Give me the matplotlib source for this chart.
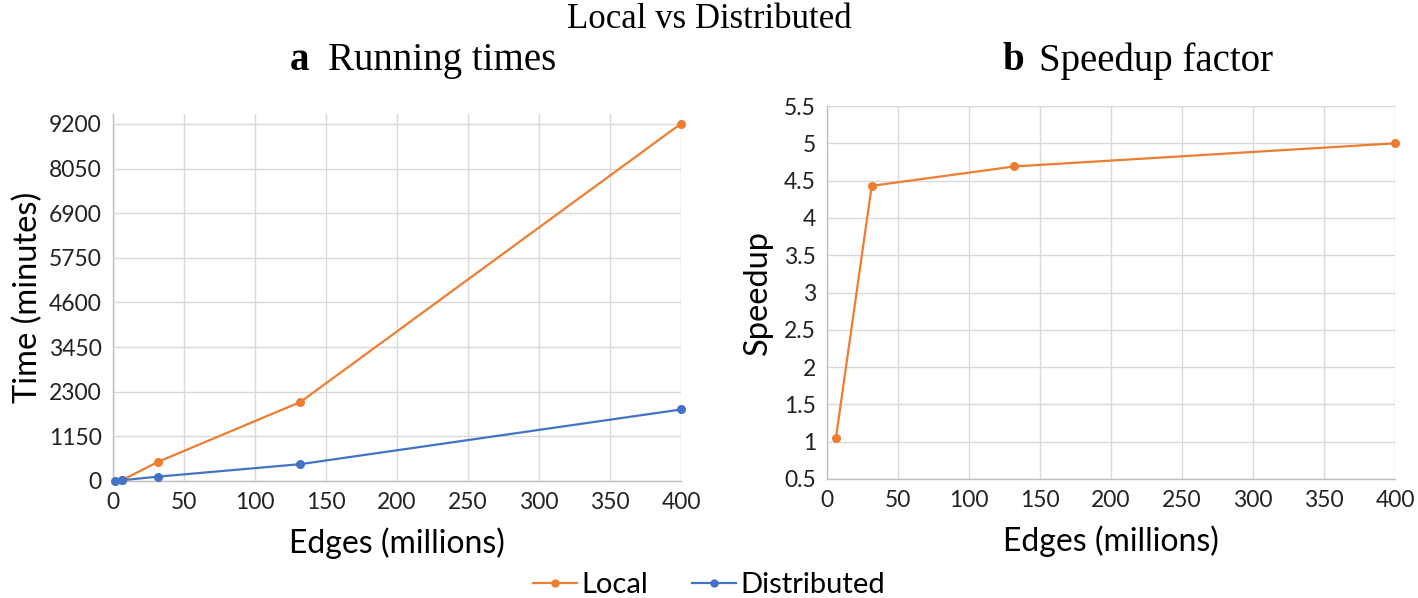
import matplotlib.pyplot as plt
from matplotlib.lines import Line2D

# values
local_edges = [6.3, 31.5, 132, 400]
local_time = [20, 490, 2036, 9210]
dist_edges = [1.4, 6.3, 31.5, 132, 400]
dist_time = [5, 19, 111, 434, 1842]
speedup_edges = [6.3, 31.5, 132, 400]
speedup = [1.05, 4.43, 4.69, 5.0]
time_ticks = [0, 1150, 2300, 3450, 4600, 5750, 6900, 8050, 9200]
speed_ticks = [0.5, 1, 1.5, 2, 2.5, 3, 3.5, 4, 4.5, 5, 5.5]
edge_ticks = [0, 50, 100, 150, 200, 250, 300, 350, 400]

ORANGE = '#ED7D31'
BLUE = '#4472C4'
GRID = '#d9d9d9'

plt.rcParams['font.family'] = ['Lato', 'DejaVu Sans']

fig = plt.figure(figsize=(14.18, 5.98), dpi=100)
ax1 = fig.add_axes([0.0797, 0.1957, 0.4006, 0.6137])
ax2 = fig.add_axes([0.5832, 0.1990, 0.4006, 0.6237])


def style(ax):
    ax.grid(True, color=GRID, linewidth=1.0)
    ax.set_axisbelow(True)
    for side in ('top', 'right'):
        ax.spines[side].set_visible(False)
    for side in ('left', 'bottom'):
        ax.spines[side].set_color('#bfbfbf')
        ax.spines[side].set_linewidth(1.0)
    ax.tick_params(length=0, labelsize=16.5, pad=8, colors='#222222')
    ax.set_xticks(edge_ticks)
    ax.set_xlim(0, 400)
    ax.set_xlabel('Edges (millions)', fontsize=23, labelpad=10)


# a: running times
ax1.plot(local_edges, local_time, '-o', color=ORANGE, lw=1.6, ms=5.5, clip_on=False, zorder=3)
ax1.plot(dist_edges, dist_time, '-o', color=BLUE, lw=1.6, ms=5.5, clip_on=False, zorder=4)
style(ax1)
ax1.set_yticks(time_ticks)
ax1.set_ylim(0, 9458)
ax1.set_ylabel('Time (minutes)', fontsize=23.5, labelpad=4)

# b: speedup
ax2.plot(speedup_edges, speedup, '-o', color=ORANGE, lw=1.6, ms=5.5, clip_on=False, zorder=3)
style(ax2)
ax2.set_yticks(speed_ticks)
ax2.set_yticklabels([f'{t:g}' for t in speed_ticks])
ax2.set_ylim(0.5, 5.5)
ax2.set_ylabel('Speedup', fontsize=23.5, labelpad=8)

serif = ['Liberation Serif', 'DejaVu Serif']
fig.text(0.5, 0.968, 'Local vs Distributed', ha='center', va='center',
         fontsize=25, family=serif)
fig.text(0.2045, 0.898, 'a', ha='left', va='center', fontsize=28,
         family=serif, fontweight='bold')
fig.text(0.2315, 0.898, 'Running times', ha='left', va='center', fontsize=28, family=serif)
fig.text(0.7073, 0.898, 'b', ha='left', va='center', fontsize=28,
         family=serif, fontweight='bold')
fig.text(0.7325, 0.898, 'Speedup factor', ha='left', va='center', fontsize=28, family=serif)

handles = [Line2D([], [], color=ORANGE, marker='o', lw=1.6, ms=5),
           Line2D([], [], color=BLUE, marker='o', lw=1.6, ms=5)]
fig.legend(handles, ['Local', 'Distributed'], loc='center', bbox_to_anchor=(0.5, 0.022),
           ncol=2, frameon=False, fontsize=21, handlelength=1.5, handletextpad=0.15,
           columnspacing=1.5)

fig.savefig('out.png', dpi=100)
